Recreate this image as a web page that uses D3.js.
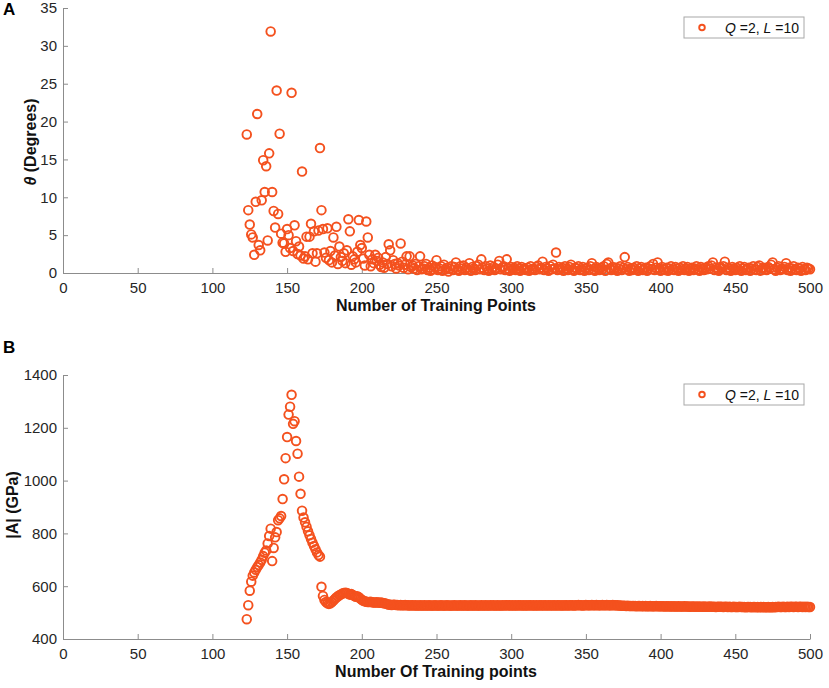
<!DOCTYPE html>
<html>
<head>
<meta charset="utf-8">
<title>Training points</title>
<script src="https://d3js.org/d3.v7.min.js"></script>
<style>
    body { margin: 0; background: #fff; }
    svg { display: block; font-family: "Liberation Sans", Arial, Helvetica, sans-serif; }
    .tick text { fill: #262626; font-size: 15px; }
    .domain, .tick line { stroke: #8c8c8c; stroke-width: 1; }
    .ax-label { fill: #111; font-size: 16px; font-weight: bold; }
    .panel-tag { fill: #000; font-size: 17px; font-weight: bold; }
    .pt { fill: none; stroke: #f4511e; stroke-width: 1.9; }
    .legend-box { fill: #fff; stroke: #a8a8a8; stroke-width: 1; }
    .legend-text { fill: #111; font-size: 14px; }
</style>
</head>
<body>
<svg id="chart" width="829" height="688"></svg>
<script>
// number of training points: 123 .. 500
const firstPoint = 123, lastPoint = 500;

// panel A: theta (degrees)
const thetaDeg = [
    18.3, 8.3, 6.4, 5.1, 4.7, 2.4, 9.4, 21.0, 3.7, 3.0,
    9.6, 14.9, 10.7, 14.1, 4.3, 15.8, 31.9, 10.7, 8.2, 6.0,
    24.1, 7.8, 18.4, 5.2, 4.0, 3.9, 2.8, 5.8, 5.0, 3.3,
    23.8, 2.9, 6.3, 4.2, 2.5, 3.5, 2.3, 13.4, 1.9, 2.2,
    4.8, 1.8, 4.8, 6.5, 2.6, 5.5, 1.5, 2.6, 5.6, 16.5,
    8.3, 5.8, 2.7, 2.0, 5.9, 1.7, 2.9, 1.4, 4.7, 2.3,
    6.1, 1.2, 3.5, 2.1, 1.6, 2.6, 1.3, 3.0, 7.1, 5.5,
    1.1, 2.2, 1.8, 1.4, 2.8, 7.0, 3.7, 3.3, 1.9, 1.0,
    6.8, 4.7, 2.4, 0.9, 1.8, 1.3, 2.4, 1.6, 2.0, 1.1,
    0.8, 1.4, 0.7, 2.1, 1.2, 3.8, 3.0, 0.9, 1.7, 1.2,
    0.6, 1.3, 1.0, 3.9, 1.5, 0.7, 1.1, 2.2, 0.5, 2.2,
    0.8, 1.0, 0.6, 1.2, 0.4, 0.9, 2.2, 0.5,
    // 241 - 500
    0.6, 0.9, 1.2, 0.4, 0.7, 0.3, 1.0, 0.5, 0.8, 1.7, 0.4, 0.6, 0.9, 0.3, 1.1, 0.5, 0.7, 0.2, 0.6, 0.9,
    0.4, 0.8, 1.4, 0.5, 0.3, 0.9, 0.6, 1.0, 0.4, 0.7, 0.5, 1.3, 0.3, 0.8, 0.6, 0.4, 0.9, 1.1, 0.5, 1.8,
    0.7, 0.4, 0.9, 0.6, 0.3, 1.0, 0.5, 0.8, 0.4, 0.6, 1.1, 1.6, 0.5, 0.7, 0.9, 0.4, 1.8, 0.6, 0.3, 0.8,
    0.5, 0.7, 0.4, 0.9, 0.6, 0.3, 0.8, 0.5, 0.6, 0.4, 0.7, 0.3, 0.9, 0.5, 0.6, 0.4, 0.8, 1.0, 0.5, 0.7,
    1.5, 0.4, 0.8, 0.6, 0.3, 0.9, 0.5, 1.1, 0.6, 2.7, 0.4, 0.8, 0.5, 0.7, 0.3, 0.9, 0.6, 0.4, 0.8, 1.1,
    0.5, 0.3, 0.7, 0.6, 0.9, 0.4, 0.5, 0.8, 0.3, 0.6, 0.7, 0.4, 0.9, 1.3, 0.5, 0.3, 0.8, 0.6, 0.4, 0.7,
    0.5, 0.9, 0.3, 1.2, 1.4, 0.6, 0.4, 0.8, 0.5, 0.7, 0.3, 0.6, 0.9, 0.4, 0.7, 2.1, 0.5, 0.8, 0.3, 0.6,
    0.4, 0.7, 0.5, 0.9, 0.3, 0.6, 0.8, 0.4, 0.5, 0.7, 0.3, 0.6, 0.9, 0.5, 1.2, 0.4, 0.7, 1.4, 0.6, 0.3,
    0.8, 0.5, 0.4, 0.7, 0.3, 0.6, 0.9, 0.5, 0.4, 0.8, 0.6, 0.3, 0.7, 0.5, 0.9, 0.4, 0.6, 0.8, 0.3, 0.5,
    0.7, 0.4, 0.6, 0.9, 0.5, 0.3, 0.8, 0.6, 0.4, 0.7, 0.5, 0.9, 0.6, 1.0, 1.4, 0.4, 0.7, 0.5, 0.3, 0.8,
    0.6, 0.9, 1.5, 0.4, 0.7, 0.5, 0.3, 0.8, 0.6, 0.4, 0.7, 0.5, 0.9, 0.3, 0.6, 0.8, 0.4, 0.5, 0.7, 0.3,
    0.6, 0.9, 0.5, 0.4, 0.8, 1.0, 0.3, 0.6, 0.7, 0.5, 0.4, 0.8, 0.6, 1.1, 1.4, 0.5, 0.3, 0.7, 0.9, 0.4,
    0.6, 0.5, 0.8, 1.3, 0.4, 0.7, 0.3, 0.6, 0.9, 0.5, 0.4, 0.7, 0.6, 0.3, 0.8, 0.5, 0.4, 0.7, 0.6, 0.5
];

// panel B: |A| (GPa)
const modulusGPa = [
    475, 528, 583, 617, 640, 652, 662, 672, 680, 690,
    700, 714, 727, 735, 762, 790, 818, 695, 745, 785,
    805, 850, 857, 866, 930, 1005, 1085, 1165, 1250, 1280,
    1325, 1215, 1225, 1150, 1102, 1015, 950, 886, 860, 842,
    825, 808, 793, 779, 765, 752, 740, 728, 718, 712,
    598, 563, 548, 540, 535, 533, 535, 540, 546, 552,
    557, 562, 566, 569, 572, 574, 575, 574, 571, 568,
    570, 567, 563, 560, 562, 558, 553, 549, 545, 543,
    541, 540, 540, 541, 539, 538, 538, 539, 538, 537,
    538, 536, 535, 534, 532, 531, 530, 529,
    // 221 - 500
    530, 530, 529, 529, 528, 529, 528, 528, 529, 528, 528, 527, 528, 528, 527, 528, 527, 527, 528, 527,
    527, 528, 527, 527, 528, 527, 527, 527, 528, 527, 527, 527, 528, 527, 527, 527, 528, 527, 527, 527,
    527, 528, 527, 527, 527, 528, 527, 527, 528, 527, 527, 527, 528, 527, 527, 528, 527, 527, 527, 528,
    527, 527, 528, 527, 527, 528, 527, 528, 527, 527, 528, 527, 527, 528, 527, 528, 528, 527, 528, 527,
    528, 527, 528, 527, 528, 528, 527, 528, 527, 528, 527, 528, 528, 527, 528, 527, 528, 527, 528, 528,
    527, 528, 528, 527, 528, 528, 527, 528, 528, 527, 528, 528, 527, 528, 527, 528, 528, 527, 528, 528,
    528, 527, 528, 528, 529, 528, 528, 527, 528, 529, 528, 528, 528, 529, 528, 528, 529, 528, 528, 528,
    529, 528, 528, 529, 528, 528, 528, 529, 528, 528, 528, 527, 527, 526, 526, 526, 525, 526, 525, 525,
    525, 525, 525, 524, 525, 525, 524, 525, 524, 525, 524, 524, 525, 524, 524, 524, 525, 524, 524, 524,
    524, 524, 523, 524, 524, 523, 524, 523, 524, 523, 523, 524, 523, 523, 523, 524, 523, 523, 523, 522,
    523, 523, 522, 523, 522, 523, 522, 522, 523, 522, 522, 522, 523, 522, 522, 522, 521, 522, 522, 522,
    522, 521, 522, 522, 521, 522, 521, 521, 522, 521, 521, 521, 522, 521, 521, 521, 520, 521, 521, 521,
    520, 521, 521, 520, 521, 520, 521, 520, 521, 520, 520, 521, 520, 520, 521, 520, 521, 521, 522, 521,
    521, 522, 521, 521, 522, 521, 522, 522, 521, 522, 522, 521, 522, 522, 521, 522, 521, 522, 521, 521
];

const xTicks = [0, 50, 100, 150, 200, 250, 300, 350, 400, 450, 500];
const thetaTicks = [0, 5, 10, 15, 20, 25, 30, 35];
const modulusTicks = [400, 600, 800, 1000, 1200, 1400];

const trainingPoints = d3.range(firstPoint, lastPoint + 1);
const svg = d3.select("#chart");

function drawPanel(cfg) {
    const x = d3.scaleLinear().domain([0, 500]).range([63, 810]);
    const y = d3.scaleLinear().domain(cfg.yDomain).range([cfg.bottom, cfg.top]);
    const g = svg.append("g");

    g.append("g")
        .attr("transform", `translate(0,${cfg.bottom})`)
        .call(d3.axisBottom(x).tickValues(xTicks).tickSize(-5).tickSizeOuter(0).tickPadding(9));

    g.append("g")
        .attr("transform", "translate(63,0)")
        .call(d3.axisLeft(y).tickValues(cfg.yTicks).tickFormat(d3.format("d"))
            .tickSize(-5).tickSizeOuter(0).tickPadding(6));

    // points
    const pts = trainingPoints.map((n, i) => ({n: n, v: cfg.values[i]}));
    g.append("g").selectAll("circle")
        .data(pts)
        .enter()
        .append("circle")
        .attr("class", "pt")
        .attr("r", 4.3)
        .attr("cx", d => x(d.n))
        .attr("cy", d => y(d.v));

    // x label
    g.append("text")
        .attr("class", "ax-label")
        .attr("x", 436)
        .attr("y", cfg.bottom + 38)
        .attr("text-anchor", "middle")
        .text(cfg.xLabel);

    // y label
    const yl = g.append("text")
        .attr("class", "ax-label")
        .attr("text-anchor", "middle")
        .attr("dominant-baseline", "central")
        .attr("transform", `translate(${cfg.yLabelX},${cfg.yLabelY}) rotate(-90)`);
    cfg.yLabel(yl);

    // panel tag
    g.append("text")
        .attr("class", "panel-tag")
        .attr("x", 3)
        .attr("y", cfg.tagY)
        .text(cfg.tag);

    // legend
    const lg = g.append("g").attr("transform", `translate(684,${cfg.legendTop})`);
    lg.append("rect").attr("class", "legend-box").attr("width", 120).attr("height", 21);
    lg.append("circle").attr("class", "pt").attr("r", 2.8).attr("cx", 18).attr("cy", 10.5);
    const lt = lg.append("text").attr("class", "legend-text").attr("x", 41).attr("y", 15.5);
    lt.append("tspan").attr("font-style", "italic").text("Q");
    lt.append("tspan").text(" =2, ");
    lt.append("tspan").attr("font-style", "italic").text("L");
    lt.append("tspan").text(" =10");
}

drawPanel({
    values: thetaDeg,
    yDomain: [0, 35],
    yTicks: thetaTicks,
    top: 8,
    bottom: 273,
    xLabel: "Number of Training Points",
    yLabelX: 30,
    yLabelY: 142,
    yLabel: t => {
        t.append("tspan").attr("font-style", "italic").text("\u03b8");
        t.append("tspan").text(" (Degrees)");
    },
    tag: "A",
    tagY: 15,
    legendTop: 17
});

drawPanel({
    values: modulusGPa,
    yDomain: [400, 1400],
    yTicks: modulusTicks,
    top: 375,
    bottom: 639,
    xLabel: "Number Of Training points",
    yLabelX: 12,
    yLabelY: 505,
    yLabel: t => t.text("|A| (GPa)"),
    tag: "B",
    tagY: 353,
    legendTop: 384
});
</script>
</body>
</html>
